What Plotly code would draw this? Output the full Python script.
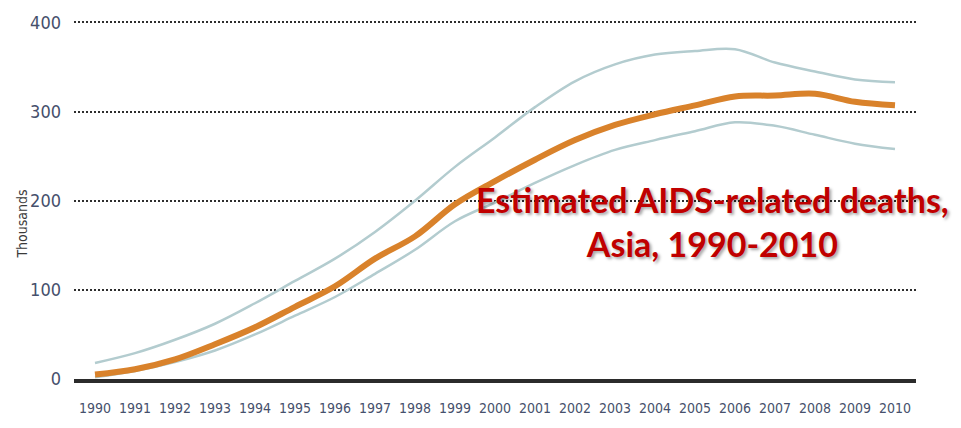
import plotly.graph_objects as go

# Estimated AIDS-related deaths in Asia (thousands), with uncertainty bounds
years = list(range(1990, 2011))
deaths_estimate = [5, 11, 22, 39, 58, 81, 104, 135, 160, 196, 222, 246, 268, 285, 297, 307, 317, 318, 320, 311, 307]
deaths_upper = [18, 29, 44, 62, 85, 110, 135, 165, 200, 238, 271, 305, 334, 353, 364, 368, 370, 355, 345, 336, 333]
deaths_lower = [2, 9, 19, 32, 50, 71, 92, 118, 145, 177, 198, 220, 240, 257, 268, 278, 288, 284, 274, 264, 258]
y_ticks = [0, 100, 200, 300, 400]

bound_color = "#b3cccf"
narrow = "DejaVu Sans Condensed, Liberation Sans, sans-serif"

fig = go.Figure()
for bound in (deaths_upper, deaths_lower):
    fig.add_trace(go.Scatter(
        x=years, y=bound, mode="lines",
        line=dict(color=bound_color, width=2.5, shape="spline"),
        hoverinfo="skip", showlegend=False,
    ))
fig.add_trace(go.Scatter(
    x=years, y=deaths_estimate, mode="lines",
    line=dict(color="#d9822b", width=6, shape="spline"),
    showlegend=False,
))

fig.update_layout(
    width=961, height=428,
    margin=dict(l=74, r=45, t=18, b=46),
    paper_bgcolor="white", plot_bgcolor="white",
    xaxis=dict(
        range=[1989.475, 2010.525],
        tickmode="array", tickvals=years, ticktext=[str(y) for y in years],
        showgrid=False, zeroline=False,
        showline=True, linecolor="#2b2b2b", linewidth=3.5,
        ticks="", ticklabelstandoff=13,
        tickfont=dict(family=narrow, size=14, color="#46506c"),
        fixedrange=True,
    ),
    yaxis=dict(
        range=[0, 405],
        tickmode="array", tickvals=y_ticks,
        showgrid=True, gridcolor="#2e2e2e", gridwidth=2, griddash="2px,2px",
        zeroline=False, showline=False,
        ticks="", ticklabelstandoff=12,
        tickfont=dict(family=narrow, size=18, color="#46506c"),
        fixedrange=True,
    ),
    annotations=[
        dict(
            text="Thousands", textangle=-90,
            xref="paper", yref="paper",
            x=-0.062, y=0.43, xanchor="center", yanchor="middle",
            showarrow=False,
            font=dict(family=narrow, size=14, color="#3a3a3a"),
        ),
        dict(
            text="Estimated AIDS-related deaths,<br>Asia, 1990-2010",
            xref="paper", yref="paper",
            x=0.758, y=0.435, xanchor="center", yanchor="middle",
            align="center", showarrow=False,
            font=dict(family="Lato", size=34, color="#c00000", weight="bold",
                      shadow="2px 2px 3px rgba(0,0,0,0.35)"),
        ),
    ],
)

fig.write_html("out.html")
